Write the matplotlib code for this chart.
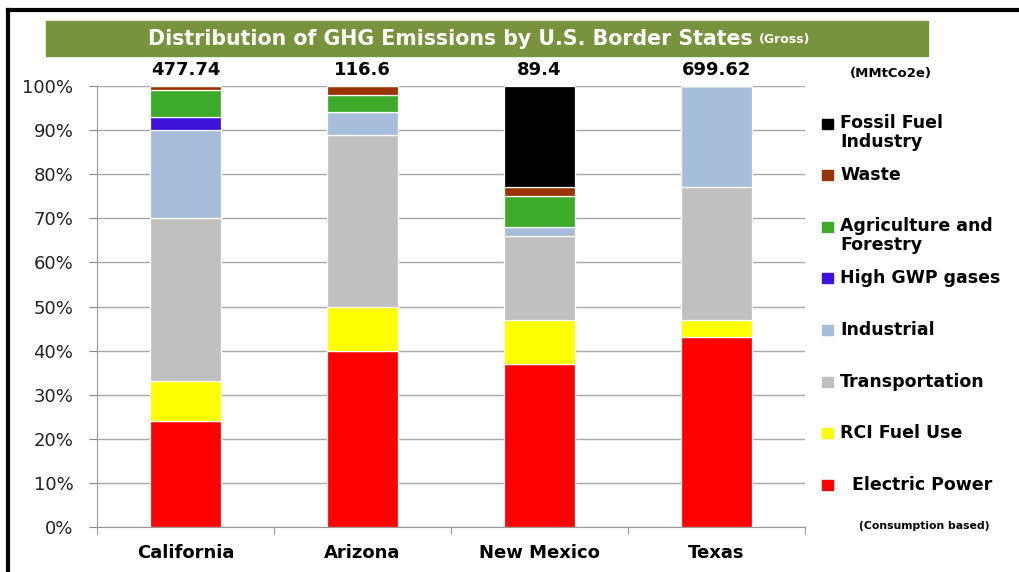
import numpy as np
import matplotlib.pyplot as plt
from matplotlib.patches import Rectangle

states = ["California", "Arizona", "New Mexico", "Texas"]
totals = ["477.74", "116.6", "89.4", "699.62"]

# shares in %, bottom to top
electric = [24, 40, 37, 43]
rci = [9, 10, 10, 4]
transport = [37, 39, 19, 30]
industrial = [20, 5, 2, 23]
high_gwp = [3, 0, 0, 0]
agriculture = [6, 4, 7, 0]
waste = [1, 2, 2, 0]
fossil = [0, 0, 23, 0]

series = [
    ("Electric Power", electric, "#FF0000"),
    ("RCI Fuel Use", rci, "#FFFF00"),
    ("Transportation", transport, "#C0C0C0"),
    ("Industrial", industrial, "#A6BDDB"),
    ("High GWP gases", high_gwp, "#3A12DA"),
    ("Agriculture and\nForestry", agriculture, "#3DAA2A"),
    ("Waste", waste, "#993300"),
    ("Fossil Fuel\nIndustry", fossil, "#000000"),
]

W, H = 1019, 572
fig = plt.figure(figsize=(W / 100, H / 100), dpi=100)
ax = fig.add_axes([97 / W, 45 / H, 708 / W, 441 / H])

x = np.arange(len(states))
bottom = np.zeros(len(states))
for name, vals, col in series:
    v = np.array(vals, dtype=float) / 100
    ax.bar(x, v, 0.4, bottom=bottom, color=col, edgecolor="white",
           linewidth=0.9, zorder=3)
    bottom += v

for i, t in enumerate(totals):
    ax.text(x[i], 1.015, t, ha="center", va="bottom", fontsize=13,
            fontweight="bold", color="black")

ax.set_xlim(-0.5, 3.5)
ax.set_ylim(0, 1)
yt = np.arange(0, 1.01, 0.1)
ax.set_yticks(yt)
ax.set_yticklabels([f"{int(round(v * 100))}%" for v in yt],
                   fontsize=13, color="#222222")
ax.set_xticks(x)
ax.set_xticklabels(states, fontsize=13, fontweight="bold")
ax.set_xticks(np.arange(-0.5, 3.6, 1), minor=True)
ax.tick_params(axis="x", which="major", length=0, pad=12)
ax.tick_params(axis="x", which="minor", length=5, color="#888888")
ax.tick_params(axis="y", length=6, color="#888888", pad=11)
ax.yaxis.grid(True, color="#A8A8A8", linewidth=1, zorder=0)
for s in ["top", "right"]:
    ax.spines[s].set_visible(False)
ax.spines["left"].set_color("#999999")
ax.spines["bottom"].set_color("#999999")

# title banner
fig.patches.append(Rectangle((46 / W, 1 - 56 / H), 882 / W, 35 / H,
                             transform=fig.transFigure, color="#77933C"))
title = fig.text(148 / W, 1 - 39 / H, "Distribution of GHG Emissions by U.S. Border States",
                 ha="left", va="center", fontsize=14.8, fontweight="bold",
                 color="white")
fig.canvas.draw()
bb = title.get_window_extent()
fig.text((bb.x1 + 6) / W, 1 - 40 / H, "(Gross)", ha="left", va="center", fontsize=9,
         fontweight="bold", color="white")

# frame lines top and left
fig.add_artist(plt.Line2D([8 / W, 1], [1 - 10 / H, 1 - 10 / H], color="black",
                          lw=3, transform=fig.transFigure))
fig.add_artist(plt.Line2D([8 / W, 8 / W], [0, 1 - 10 / H], color="black",
                          lw=3, transform=fig.transFigure))

fig.text(850 / W, 1 - 73 / H, "(MMtCo2e)", ha="left", va="center",
         fontsize=9.5, fontweight="bold")

# legend, top to bottom
leg_y = [133, 175, 236, 278, 330, 382, 433, 485]
for (name, vals, col), yy in zip(series[::-1], leg_y):
    two = "\n" in name
    first_line = yy - 9 if two else yy
    fig.patches.append(Rectangle((822 / W, 1 - (first_line + 5) / H), 11 / W, 10 / H,
                                 transform=fig.transFigure, color=col))
    lab = "  " + name if name == "Electric Power" else name
    if two:
        fig.text(840 / W, 1 - (first_line - 10) / H, lab, ha="left", va="top",
                 fontsize=12.5, fontweight="bold", linespacing=1.1)
    else:
        fig.text(840 / W, 1 - yy / H, lab, ha="left", va="center",
                 fontsize=12.5, fontweight="bold")

fig.text(924 / W, 1 - 526 / H, "(Consumption based)", ha="center", va="center",
         fontsize=7.8, fontweight="bold")

fig.savefig("out.png", dpi=100)
